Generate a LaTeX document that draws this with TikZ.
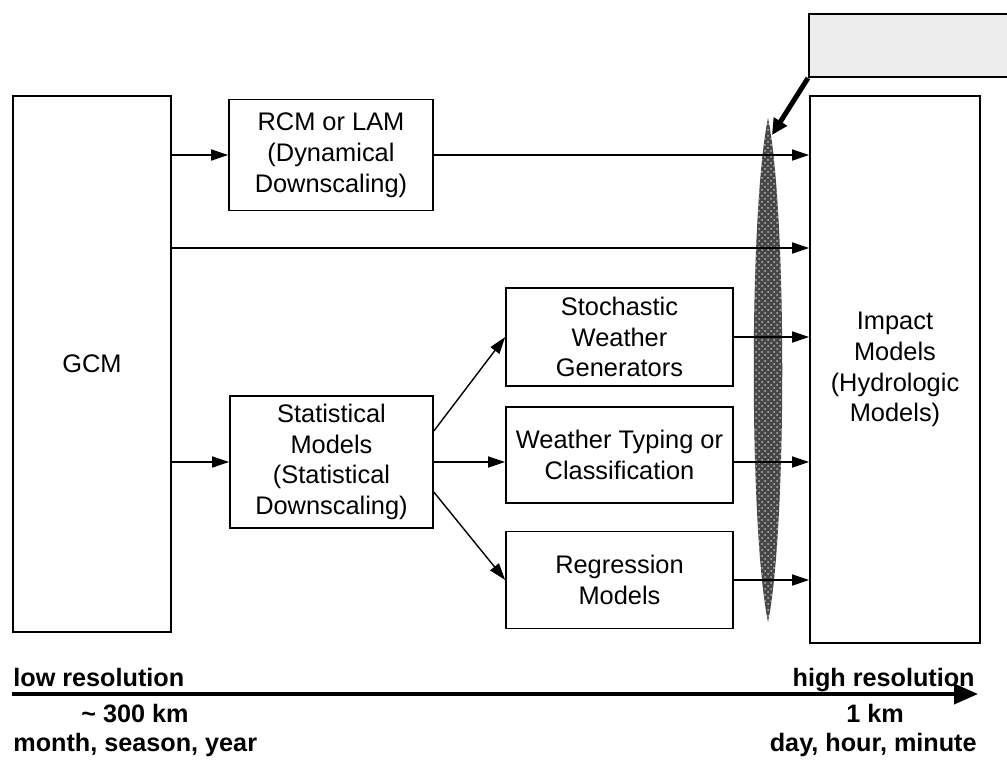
\documentclass[tikz,border=0pt]{standalone}
\usepackage{fontspec}
\setmainfont{Liberation Sans}
\usetikzlibrary{arrows.meta,patterns}

\begin{document}
\begin{tikzpicture}
  [x=0.5pt,y=-0.5pt,
   caja/.style={rectangle,draw=black,line width=0.8pt,align=center,inner sep=0pt,
     font=\fontsize{12.7}{15.4}\selectfont},
   flecha/.style={line width=0.7pt,-{Triangle[length=8.5pt,width=5.5pt]}},
   pie/.style={font=\bfseries\fontsize{12.6}{14}\selectfont,inner sep=0pt,anchor=base}]

  \useasboundingbox (0,0) rectangle (1007,760);

  % Elipse de transicion de escala
  \fill[black!72,postaction={pattern=crosshatch dots,pattern color=gray!55}]
    (768,118) .. controls (787,210) and (787,530) .. (768,622)
              .. controls (749,530) and (749,210) .. (768,118);

  % Modelos globales y regionales
  \node[caja,minimum width=79pt,minimum height=268pt] (gcm) at (92,364) {GCM};
  \node[caja,minimum width=102pt,minimum height=55.5pt] (rcm) at (331,155) {RCM or LAM\\(Dynamical\\Downscaling)};
  \node[caja,minimum width=101.5pt,minimum height=66pt] (stat) at (331.5,462) {Statistical\\Models\\(Statistical\\Downscaling)};

  % Metodos estadisticos
  \node[caja,minimum width=113.5pt,minimum height=49pt] (stoch) at (619.5,337) {Stochastic\\Weather\\Generators};
  \node[caja,minimum width=113.5pt,minimum height=48pt] (wtype) at (619.5,455) {Weather Typing or\\Classification};
  \node[caja,minimum width=113.5pt,minimum height=48.5pt] (regr) at (619.5,580) {Regression\\Models};

  % Modelos de impacto
  \node[caja,minimum width=85pt,minimum height=273.5pt] (impact) at (895,369.5) {Impact\\Models\\(Hydrologic\\Models)};

  % Recuadro superior con flecha gruesa
  \node[rectangle,draw=black,line width=1pt,fill=gray!14,minimum width=110pt,minimum height=31.5pt,
    anchor=south west] (nota) at (808,78) {};
  \coordinate (punta) at (772,135);
  \draw[line width=2.5pt,-{Triangle[length=8pt,width=7.5pt]}] (nota.south west) -- (punta);

  % Conexiones
  \coordinate (fila) at (0,248);
  \draw[flecha] (gcm.east |- rcm.west) -- (rcm.west);
  \draw[flecha] (rcm.east) -- (rcm.east -| impact.west);
  \draw[flecha] (gcm.east |- fila) -- (fila -| impact.west);
  \draw[flecha] (gcm.east |- stat.west) -- (stat.west);
  \draw[flecha] ([yshift=15.5pt]stat.east) -- (stoch.west);
  \draw[flecha] (stat.east) -- (stat.east -| wtype.west);
  \draw[flecha] ([yshift=-15pt]stat.east) -- (regr.west);
  \draw[flecha] (stoch.east) -- (stoch.east -| impact.west);
  \draw[flecha] (wtype.east |- stat.east) -- (stat.east -| impact.west);
  \draw[flecha] (regr.east) -- (regr.east -| impact.west);

  % Eje de resolucion
  \coordinate (ini) at (12,694);
  \coordinate (fin) at (978,694);
  \draw[line width=2pt,-{Triangle[length=12pt,width=10pt]}] (ini) -- (fin);

  \node[pie,anchor=base west] (baja) at (13,686) {low resolution};
  \node[pie,anchor=base east] (alta) at (975,686) {high resolution};
  \node[pie] (km300) at (135,722) {\textasciitilde{} 300 km};
  \node[pie,anchor=base west] (lento) at (13,751) {month, season, year};
  \node[pie] (km1) at (875,722) {1 km};
  \node[pie,anchor=base east] (rapido) at (977,751) {day, hour, minute};

\end{tikzpicture}
\end{document}
